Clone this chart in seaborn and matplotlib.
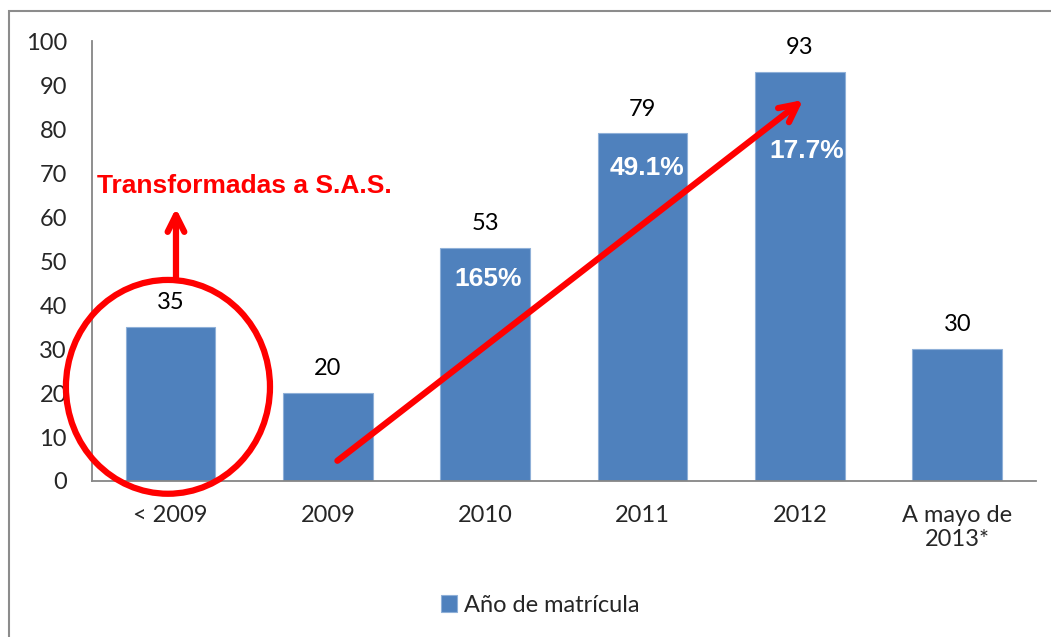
import numpy as np
import pandas as pd
from matplotlib import pyplot as plt
from matplotlib.patches import Ellipse, Rectangle
import seaborn as sns

categories = ["< 2009", "2009", "2010", "2011", "2012", "A mayo de\n2013*"]
values = [35, 20, 53, 79, 93, 30]
growth = ["", "", "165%", "49.1%", "17.7%", ""]
series_name = "Año de matrícula"
note = "Transformadas a S.A.S."

sns.set_style("white")
plt.rcParams['font.family'] = ['Lato', 'DejaVu Sans']

df = pd.DataFrame({"cat": categories, "val": values})

fig = plt.figure(figsize=(10.51, 6.37), dpi=100)
ax = fig.add_axes([0.0875, 0.2449, 0.8982, 0.6907])
sns.barplot(data=df, x="cat", y="val", color="#4F81BD", saturation=1,
            width=0.57, edgecolor="#8fb0d8", linewidth=0.8, ax=ax, label=series_name)

ax.set_ylim(0, 100)
ax.set_xlim(-0.5, len(categories) - 0.5)
ax.set_yticks(range(0, 101, 10))
ax.set_xlabel("")
ax.set_ylabel("")
ax.tick_params(axis="y", length=0, pad=18, labelsize=17)
ax.tick_params(axis="x", length=0, pad=17, labelsize=17)
for s in ["top", "right"]:
    ax.spines[s].set_visible(False)
for s in ["left", "bottom"]:
    ax.spines[s].set_color("#868686")
    ax.spines[s].set_linewidth(1.3)

# value labels above bars
for i, v in enumerate(values):
    ax.annotate(str(v), (i, v), xytext=(0, 10), textcoords="offset points",
                ha="center", va="bottom", fontsize=17, color="black")

# growth labels inside bars
drop = {2: 7.1, 3: 7.9, 4: 18.0}
shift = {2: 0.02, 3: 0.03, 4: 0.04}
for i, g in enumerate(growth):
    if g:
        ax.text(i + shift[i], values[i] - drop[i], g, ha="center", va="center",
                fontsize=19, fontweight="bold", color="white",
                family=["Liberation Sans", "DejaVu Sans"])

# red circle and arrows
ax.add_patch(Ellipse((-0.017, 21.4), 1.297, 48.6, fill=False, edgecolor="red",
                     linewidth=4.5, clip_on=False, zorder=10))
ax.annotate("", xy=(0.034, 62.0), xytext=(0.034, 46.0),
            arrowprops=dict(arrowstyle="->", color="red", lw=4.5, mutation_scale=30,
                            shrinkA=0, shrinkB=0),
            annotation_clip=False, zorder=10)
ax.text(-0.47, 67.0, note, ha="left", va="center", fontsize=19, fontweight="bold",
        color="red", family=["Liberation Sans", "DejaVu Sans"])
ax.annotate("", xy=(4.02, 86.6), xytext=(1.06, 4.6),
            arrowprops=dict(arrowstyle="->", color="red", lw=4.5, mutation_scale=32,
                            shrinkA=0, shrinkB=0),
            zorder=10)

leg = ax.legend(loc="center", bbox_to_anchor=(0.514, 0.05), bbox_transform=fig.transFigure,
                frameon=False, fontsize=17, handlelength=0.7, handleheight=0.7,
                handletextpad=0.3)

# outer chart frame
fig.patches.append(Rectangle((9 / 1051, -0.1), 1.2, 1 - 11 / 637 + 0.1,
                             transform=fig.transFigure, fill=False,
                             edgecolor="#8c8c8c", linewidth=1.5))

fig.savefig("out.png", dpi=100)
